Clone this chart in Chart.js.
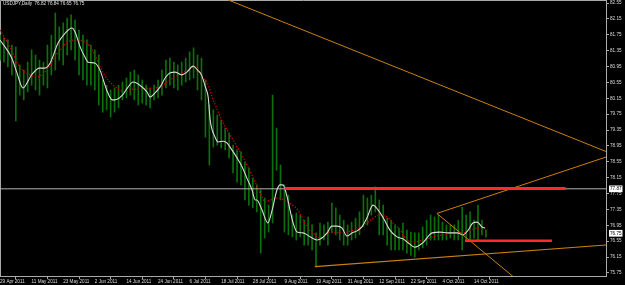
<!DOCTYPE html>
<html><head><meta charset="utf-8">
<script src="https://cdn.jsdelivr.net/npm/chart.js@4/dist/chart.umd.min.js"></script>
<style>
html,body{margin:0;padding:0;background:#000;overflow:hidden}
#wrap{width:625px;height:285px;position:relative}
</style></head>
<body><div id="wrap"><canvas id="c"></canvas></div>
<script>
const symbolTitle = 'USDJPY,Daily  76.82 76.84 76.65 76.75';
const dateLabels = ['29 Apr 2011','11 May 2011','23 May 2011','2 Jun 2011','14 Jun 2011','24 Jun 2011','6 Jul 2011','18 Jul 2011','28 Jul 2011','9 Aug 2011','19 Aug 2011','31 Aug 2011','12 Sep 2011','22 Sep 2011','4 Oct 2011','14 Oct 2011'];
const barsPerLabel = 8;
const priceTicks = [82.55,82.15,81.75,81.35,80.95,80.55,80.15,79.75,79.35,78.95,78.55,78.15,77.75,77.35,76.95,76.55,76.15,75.75];
const markedPrices = [77.87, 76.75];
const yMin = 75.674, yMax = 82.626, xMax = 153.4;

const highs = [81.74,81.67,81.62,81.49,81.44,80.99,80.86,81.06,81.37,81.24,81.11,81.06,81.49,81.74,82.30,81.95,82.05,82.17,82.25,82.12,
81.87,81.74,81.62,81.49,81.37,81.24,80.61,80.48,80.36,80.41,80.48,80.56,80.66,80.81,80.86,80.74,80.61,80.48,80.41,80.48,
80.61,80.86,81.11,81.16,81.06,80.99,81.06,81.16,81.32,81.42,81.24,81.16,80.61,79.98,79.86,79.73,79.60,79.40,79.28,78.97,
78.85,78.80,78.54,78.39,78.14,77.97,77.84,77.64,77.46,80.23,79.40,78.47,77.97,77.71,77.21,77.26,77.21,77.08,77.16,76.96,
76.76,77.01,76.96,77.03,77.51,77.39,77.21,77.08,76.96,77.03,77.13,77.29,77.71,77.64,77.71,77.92,77.59,77.46,77.13,77.08,
76.96,76.88,77.01,76.83,76.78,76.76,76.76,76.91,77.08,77.21,77.16,77.21,77.03,76.96,76.96,76.96,77.08,77.41,77.21,77.29,
77.08,77.46,77.08,76.84];
const lows = [81.11,81.06,80.94,80.74,79.58,80.23,80.11,80.31,80.48,80.36,80.23,80.48,80.41,80.74,80.86,81.11,80.99,81.24,81.37,81.11,
80.74,80.61,80.48,80.48,80.36,79.98,79.80,79.86,79.68,79.80,79.91,80.11,80.16,80.23,80.11,79.98,80.03,79.98,79.91,80.11,
80.16,80.23,80.41,80.48,80.41,80.36,80.48,80.56,80.61,80.66,80.36,80.11,79.17,78.47,78.92,78.97,78.90,78.85,78.65,78.27,
78.04,77.97,77.59,77.46,77.39,77.29,76.25,76.63,76.78,77.01,78.34,77.59,76.78,76.71,76.66,76.58,76.66,76.45,76.45,76.33,
75.90,76.45,76.58,76.45,76.76,76.71,76.58,76.45,76.45,76.58,76.63,76.71,76.91,76.96,77.21,77.29,76.71,76.71,76.45,76.33,
76.33,76.33,76.33,76.25,76.20,76.15,76.33,76.38,76.45,76.58,76.58,76.58,76.58,76.58,76.63,76.58,76.58,76.33,76.58,76.58,
76.63,76.58,76.71,76.65];

const fastMA = [[0,81.62],[3,81.16],[4.3,80.79],[5.8,80.41],[8,80.74],[10,80.91],[11.4,80.91],[12.7,81.04],[14.7,81.54],[16.5,81.79],[18.2,81.92],[19,81.82],[20.3,81.44],[21.5,81.19],[22.3,81.06],[24,81.04],[25.3,80.86],[27,80.36],[28.4,80.11],[29,80.11],[31,80.23],[32.4,80.43],[33.7,80.56],[35.4,80.48],[37.2,80.31],[38,80.18],[39.2,80.28],[40.5,80.43],[41.8,80.66],[43,80.79],[44.3,80.81],[46,80.74],[47.3,80.81],[48.9,80.96],[50,80.86],[51,80.74],[52,80.43],[52.7,80.18],[53.2,79.60],[54.4,79.18],[55.2,79.05],[56.5,79.07],[57.5,79.02],[58.7,78.85],[60,78.65],[61.3,78.42],[62.5,78.14],[63.8,77.84],[64.6,77.59],[65,77.59],[66.3,77.34],[67.8,77.01],[68.9,77.34],[70.1,77.84],[70.9,77.97],[71.6,77.97],[72.7,77.66],[73.4,77.34],[74.2,77.01],[75.2,76.78],[76.7,76.76],[78.5,76.66],[80.3,76.58],[81.5,76.63],[82.8,76.76],[84,76.93],[85.3,76.93],[86.6,76.88],[87.8,76.68],[89.1,76.76],[90.4,76.81],[91.6,76.91],[92.9,77.14],[94.4,77.46],[95.7,77.34],[97,77.14],[98.7,76.83],[100.5,76.66],[102,76.61],[103.3,76.51],[105,76.40],[107,76.51],[109.4,76.76],[111.4,76.78],[113.4,76.76],[115.7,76.76],[117.2,76.71],[118.5,76.83],[119.7,77.01],[120.8,77.03],[122,76.91],[122.8,76.88]];
const slowMA = [[0,81.87],[2.5,81.44],[5,80.94],[7.6,80.74],[9.4,80.69],[10.6,80.74],[12.2,80.91],[13.9,81.19],[15.7,81.42],[17.2,81.57],[19.5,81.62],[22,81.54],[23.3,81.37],[24.6,81.11],[26.1,80.79],[27.8,80.56],[29.6,80.41],[31.6,80.31],[33.7,80.38],[36.2,80.38],[38.7,80.41],[40.5,80.43],[42.3,80.56],[43.8,80.66],[46.1,80.79],[47.6,80.86],[49.4,80.94],[50.6,80.81],[51.4,80.66],[52.4,80.56],[53.9,80.13],[56.5,79.53],[59,79.10],[61.5,78.67],[64,78.17],[66.3,77.66],[67.1,77.54],[68.4,77.59],[70.4,77.64],[72.7,77.54],[74.7,77.41],[75.9,77.26],[77.7,76.91],[79.2,76.76],[81,76.63],[82.8,76.76],[84.3,76.78],[86.1,76.76],[87.8,76.78],[89.4,76.83],[91.1,76.88],[92.9,77.01],[94.4,77.13],[96.2,77.21],[98,77.16],[99.5,77.01],[101.3,76.83],[103,76.58],[104.6,76.53],[107.1,76.58],[109.6,76.66],[112.2,76.71],[114.7,76.76],[117,76.76],[119,76.83],[121,76.88],[122,76.86]];

const upperTrend = [[57.7,82.63],[153.4,78.81]];
const risingTrend = [[110.6,77.25],[153.4,78.67]];
const fallingTrend = [[110.6,77.25],[130.0,75.65]];
const bottomTrend = [[79.7,75.91],[153.4,76.455]];
const resistanceLine = [[72.0,77.88],[143.2,77.88]];
const supportLine = [[117.7,76.56],[139.7,76.56]];
const levelLine = [[0,77.87],[153.4,77.87]];

const pts = a => a.map(p => ({x:p[0], y:p[1]}));
const FONT = {family:'Liberation Sans', size:4.6};
const AXIS = '#a9a9a9';

const chromePlugin = {
  id:'chrome',
  beforeDatasetsDraw(chart){
    const {ctx, chartArea:a} = chart;
    ctx.save(); ctx.strokeStyle = AXIS; ctx.lineWidth = 1;
    ctx.beginPath(); ctx.moveTo(a.left+0.5, a.bottom); ctx.lineTo(a.left+0.5, a.top+0.5); ctx.lineTo(a.right, a.top+0.5); ctx.stroke();
    ctx.restore();
  },
  afterDatasetsDraw(chart){
    const {ctx, chartArea:a} = chart;
    ctx.save(); ctx.fillStyle = '#e0e0e0'; ctx.font = '4.6px "Liberation Sans"'; ctx.textBaseline = 'top';
    ctx.fillText(symbolTitle, a.left+3, a.top+1.5);
    ctx.restore();
  }
};

const lineDs = (data, color, width, order, extra) => Object.assign({type:'line', data:pts(data), borderColor:color, borderWidth:width, pointRadius:0, fill:false, order}, extra||{});

new Chart(document.getElementById('c'), {
  type:'bar',
  data:{datasets:[
    {type:'bar', data:highs.map((h,i)=>({x:i, y:[lows[i], h]})), backgroundColor:'#0b700b', borderWidth:0, barThickness:1, order:20},
    lineDs(levelLine, '#b4b4b4', 1, 15),
    lineDs(slowMA, '#c00000', 1.3, 12, {borderDash:[1.4,1.6], tension:0.4, cubicInterpolationMode:'monotone'}),
    lineDs(fastMA, '#d8d8d8', 1.1, 11, {tension:0.4, cubicInterpolationMode:'monotone'}),
    lineDs(upperTrend, '#c98010', 1, 6),
    lineDs(risingTrend, '#c98010', 1, 6),
    lineDs(fallingTrend, '#c98010', 1, 6),
    lineDs(bottomTrend, '#c98010', 1.2, 6),
    lineDs(resistanceLine, '#ff2a2a', 3, 4),
    lineDs(supportLine, '#ff2a2a', 2.5, 4)
  ]},
  options:{
    responsive:true, maintainAspectRatio:false, animation:false, devicePixelRatio:1,
    layout:{padding:0},
    plugins:{legend:{display:false}, tooltip:{enabled:false}, title:{display:false}},
    scales:{
      x:{type:'linear', min:0, max:xMax, offset:false,
        grid:{drawOnChartArea:false, drawTicks:true, tickLength:3, color:AXIS},
        border:{display:true, color:AXIS},
        afterBuildTicks(s){ s.ticks = dateLabels.map((_,k)=>({value:k*barsPerLabel})); },
        afterFit(s){ s.height = 9; s.paddingLeft = 0; s.paddingRight = 0; },
        ticks:{autoSkip:false, maxRotation:0, align:'start', padding:0, color:'#dcdcdc', font:FONT,
          callback:v=>dateLabels[Math.round(v/barsPerLabel)]}
      },
      y:{type:'linear', position:'right', min:yMin, max:yMax,
        grid:{drawOnChartArea:false, drawTicks:true, tickLength:3, color:ctx=>markedPrices.includes(ctx.tick && ctx.tick.value)?'rgba(0,0,0,0)':AXIS},
        border:{display:true, color:AXIS},
        afterBuildTicks(s){ s.ticks = priceTicks.concat(markedPrices).sort((a,b)=>a-b).map(v=>({value:v})); },
        afterFit(s){ s.width = 19; s.paddingTop = 0; s.paddingBottom = 0; },
        ticks:{autoSkip:false, padding:1, font:FONT,
          color:ctx=>markedPrices.includes(ctx.tick.value)?'#000':'#dcdcdc',
          showLabelBackdrop:true,
          backdropColor:ctx=>markedPrices.includes(ctx.tick.value)?'#ffffff':'rgba(0,0,0,0)',
          backdropPadding:{top:0.6,bottom:0.6,left:1,right:1},
          callback:v=>Number(v).toFixed(2)}
      }
    }
  },
  plugins:[chromePlugin]
});
</script>
</body></html>
